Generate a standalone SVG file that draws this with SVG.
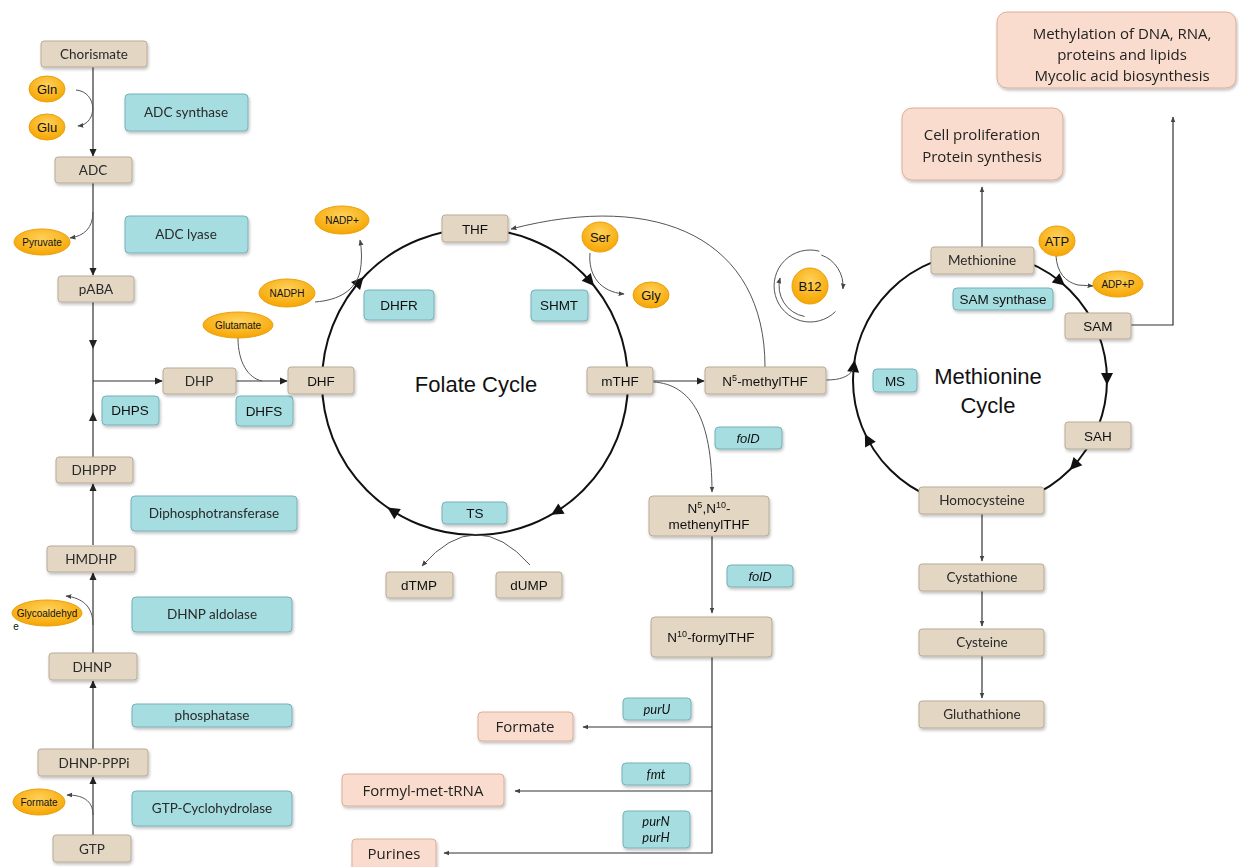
<svg xmlns="http://www.w3.org/2000/svg" width="1239" height="867" viewBox="0 0 1239 867">
<defs>
<style>
.tan{fill:#e3d6c3;stroke:#b9ab97;stroke-width:1}
.teal{fill:#a5dde1;stroke:#76b2b8;stroke-width:1}
.peach{fill:#f9dccd;stroke:#dcae98;stroke-width:1}
.orb{fill:url(#og);stroke:#eaa010;stroke-width:1}
.t{font-family:Lato,"Noto Sans",sans-serif;font-size:13.5px;fill:#2a2a2a;text-anchor:middle}
.h{font-family:"Liberation Sans",Arial,sans-serif;font-size:13.5px;fill:#111;text-anchor:middle}
.hs{font-family:"Liberation Sans",Arial,sans-serif;font-size:10px;fill:#111;text-anchor:middle}
.hi{font-family:"Liberation Sans",Arial,sans-serif;font-size:13px;fill:#111;text-anchor:middle;font-style:italic}
.ti{font-family:Lato,"Noto Sans",sans-serif;font-size:13px;fill:#111;text-anchor:middle;font-style:italic}
.p{font-family:"Open Sans","Noto Sans",sans-serif;font-size:15px;fill:#222;text-anchor:middle}
.big{font-family:"Liberation Sans",Arial,sans-serif;font-size:22px;fill:#111;text-anchor:middle}
.ln{fill:none;stroke:#333;stroke-width:1.2}
.cv{fill:none;stroke:#555;stroke-width:1}
.cyc{fill:none;stroke:#111;stroke-width:2}
</style>
<radialGradient id="og" cx="50%" cy="35%" r="65%">
<stop offset="0" stop-color="#ffd15a"/>
<stop offset="1" stop-color="#f6a500"/>
</radialGradient>
<filter id="sh" x="-10%" y="-10%" width="130%" height="140%">
<feDropShadow dx="1" dy="2" stdDeviation="1.5" flood-color="#000" flood-opacity="0.25"/>
</filter>
<marker id="ah" viewBox="0 0 10 10" refX="9" refY="5" markerWidth="8" markerHeight="8" markerUnits="userSpaceOnUse" orient="auto"><path d="M0,0.5 L10,5 L0,9.5 z" fill="#222"/></marker>
<marker id="as" viewBox="0 0 10 10" refX="9" refY="5" markerWidth="6" markerHeight="6" markerUnits="userSpaceOnUse" orient="auto"><path d="M0,1 L10,5 L0,9 z" fill="#444"/></marker>
<path id="tri" d="M-7,-6 L5,0 L-7,6 z" fill="#111"/>
<path id="tris" d="M-5,-4 L4,0 L-5,4 z" fill="#222"/>
</defs>

<rect width="1239" height="867" fill="#fff"/>

<!-- cycles -->
<g id="cycles">
<circle class="cyc" cx="475" cy="382" r="153"/>
<circle class="cyc" cx="980" cy="380" r="127"/>
<use href="#tri" transform="translate(360.2,280.8) rotate(311.4)"/>
<use href="#tri" transform="translate(590.8,282.1) rotate(49.2)"/>
<use href="#tri" transform="translate(555.5,512.2) rotate(148.3)"/>
<use href="#tri" transform="translate(391.7,510.3) rotate(213)"/>
<use href="#tri" transform="translate(1061,282.3) rotate(39.7)"/>
<use href="#tri" transform="translate(1107,380) rotate(90)"/>
<use href="#tri" transform="translate(1073.2,466.3) rotate(132.8)"/>
<use href="#tri" transform="translate(867.2,438.4) rotate(242.6)"/>
<use href="#tri" transform="translate(854,365) rotate(276.8)"/>
</g>

<!-- connectors -->
<g id="connectors">
<path class="ln" d="M93 67 V156" marker-end="url(#ah)"/>
<path class="cv" d="M76 90 C98 92 98 124 78 126" marker-end="url(#as)"/>
<path class="ln" d="M93 183 V275" marker-end="url(#ah)"/>
<path class="cv" d="M93 212 C93 228 84 236 70 238" marker-end="url(#as)"/>
<path class="ln" d="M93 302 V457"/>
<use href="#tris" transform="translate(93,345) rotate(90)"/>
<use href="#tris" transform="translate(93,416) rotate(-90)"/>
<path class="ln" d="M93 381 H162" marker-end="url(#ah)"/>
<path class="ln" d="M93 545 V484" marker-end="url(#ah)"/>
<path class="ln" d="M93 653 V573" marker-end="url(#ah)"/>
<path class="cv" d="M93 625 C93 606 82 598 66 596" marker-end="url(#as)"/>
<path class="ln" d="M93 749 V681" marker-end="url(#ah)"/>
<path class="ln" d="M93 835 V777" marker-end="url(#ah)"/>
<path class="cv" d="M93 815 C93 800 82 795 67 795" marker-end="url(#as)"/>
<path class="ln" d="M236 381 H287" marker-end="url(#ah)"/>
<path class="cv" d="M238 338 C238 362 248 378 262 381"/>
<path class="cv" d="M315 302 C340 300 355 290 360 272 C362 262 362 250 360 240" marker-end="url(#as)"/>
<path class="cv" d="M590 253 C588 275 600 292 624 294" marker-end="url(#as)"/>
<path class="cv" d="M765 367 C765 240 660 190 511 229" marker-end="url(#as)"/>
<path class="ln" d="M653 381 H704" marker-end="url(#ah)"/>
<path class="cv" d="M826 380 C840 380 848 377 853 370"/>
<path class="cv" d="M653 382 C692 384 712 420 712 492" marker-end="url(#as)"/>
<path class="ln" d="M712 536 V613" marker-end="url(#as)"/>
<path class="ln" d="M712 657 V853 H444" marker-end="url(#as)"/>
<path class="ln" d="M712 727 H583" marker-end="url(#as)"/>
<path class="ln" d="M712 791 H515" marker-end="url(#as)"/>
<path class="cv" d="M530 565 Q476 504 422 566" marker-end="url(#as)"/>
<path class="cv" d="M1056 256 C1057 272 1065 282 1078 285 L1093 286" marker-end="url(#as)"/>
<path class="ln" d="M982 247 V187" marker-end="url(#as)"/>
<path class="ln" d="M1131 325 H1173 V117" marker-end="url(#as)"/>
<path class="ln" d="M982 514 V561" marker-end="url(#as)"/>
<path class="ln" d="M982 591 V626" marker-end="url(#as)"/>
<path class="ln" d="M982 656 V698" marker-end="url(#as)"/>
<path class="cv" d="M819.3 251.2 A36 36 0 1 0 835.5 311.5"/>
<path class="cv" d="M804.6 316.5 A31 31 0 0 1 780.1 278" marker-end="url(#as)"/>
<path class="cv" d="M821.3 255 A33 33 0 0 1 842.9 288.9" marker-end="url(#as)"/>
</g>

<!-- left pathway -->
<g id="chorismate" filter="url(#sh)"><rect class="tan" x="41" y="41" width="106" height="26" rx="3"/><text class="t" x="94" y="59">Chorismate</text></g>
<g id="gln"><ellipse class="orb" cx="47" cy="89" rx="18" ry="13"/><text class="h" x="47" y="94" style="font-size:13px">Gln</text></g>
<g id="glu"><ellipse class="orb" cx="47" cy="127" rx="18" ry="13"/><text class="h" x="47" y="132" style="font-size:13px">Glu</text></g>
<g id="adc-synthase" filter="url(#sh)"><rect class="teal" x="125" y="94" width="123" height="37" rx="4"/><text class="t" x="186" y="117">ADC synthase</text></g>
<g id="adc" filter="url(#sh)"><rect class="tan" x="55" y="157" width="77" height="26" rx="3"/><text class="t" x="93" y="175">ADC</text></g>
<g id="pyruvate"><ellipse class="orb" cx="42" cy="242" rx="28" ry="13"/><text class="hs" x="42" y="246">Pyruvate</text></g>
<g id="adc-lyase" filter="url(#sh)"><rect class="teal" x="125" y="216" width="123" height="37" rx="4"/><text class="t" x="186" y="239">ADC lyase</text></g>
<g id="paba" filter="url(#sh)"><rect class="tan" x="58" y="276" width="76" height="26" rx="3"/><text class="t" x="96" y="294">pABA</text></g>
<g id="nadph"><ellipse class="orb" cx="287" cy="293" rx="28" ry="14"/><text class="hs" x="287" y="297">NADPH</text></g>
<g id="glutamate"><ellipse class="orb" cx="238" cy="325" rx="35" ry="13"/><text class="hs" x="238" y="329">Glutamate</text></g>
<g id="nadp"><ellipse class="orb" cx="342" cy="220" rx="27" ry="14"/><text class="hs" x="342" y="224">NADP+</text></g>
<g id="dhp" filter="url(#sh)"><rect class="tan" x="163" y="368" width="73" height="26" rx="3"/><text class="t" x="199" y="386">DHP</text></g>
<g id="dhps" filter="url(#sh)"><rect class="teal" x="102" y="396" width="57" height="29" rx="4"/><text class="h" x="130" y="415">DHPS</text></g>
<g id="dhfs" filter="url(#sh)"><rect class="teal" x="236" y="396" width="57" height="30" rx="4"/><text class="h" x="264" y="416">DHFS</text></g>
<g id="dhf" filter="url(#sh)"><rect class="tan" x="288" y="367" width="66" height="27" rx="3"/><text class="h" x="321" y="386">DHF</text></g>
<g id="dhppp" filter="url(#sh)"><rect class="tan" x="56" y="457" width="77" height="26" rx="3"/><text class="t" x="94" y="475">DHPPP</text></g>
<g id="diphosphotransferase" filter="url(#sh)"><rect class="teal" x="131" y="496" width="166" height="35" rx="4"/><text class="t" x="214" y="518">Diphosphotransferase</text></g>
<g id="hmdhp" filter="url(#sh)"><rect class="tan" x="47" y="546" width="88" height="26" rx="3"/><text class="t" x="91" y="564">HMDHP</text></g>
<g id="glycoaldehyde"><ellipse class="orb" cx="47" cy="613" rx="35" ry="13"/><text class="hs" x="47" y="617">Glycoaldehyd</text><text class="hs" x="16" y="630">e</text></g>
<g id="dhnp-aldolase" filter="url(#sh)"><rect class="teal" x="132" y="597" width="160" height="35" rx="4"/><text class="t" x="212" y="619">DHNP aldolase</text></g>
<g id="dhnp" filter="url(#sh)"><rect class="tan" x="49" y="653" width="88" height="27" rx="3"/><text class="t" x="92" y="672">DHNP</text></g>
<g id="phosphatase" filter="url(#sh)"><rect class="teal" x="132" y="704" width="160" height="23" rx="4"/><text class="t" x="212" y="720">phosphatase</text></g>
<g id="dhnp-pppi" filter="url(#sh)"><rect class="tan" x="38" y="749" width="110" height="27" rx="3"/><text class="t" x="94" y="768">DHNP-PPPi</text></g>
<g id="formate-l"><ellipse class="orb" cx="39" cy="802" rx="26" ry="13"/><text class="hs" x="39" y="806">Formate</text></g>
<g id="gtp-cyclohydrolase" filter="url(#sh)"><rect class="teal" x="132" y="791" width="160" height="35" rx="4"/><text class="t" x="212" y="813">GTP-Cyclohydrolase</text></g>
<g id="gtp" filter="url(#sh)"><rect class="tan" x="53" y="835" width="78" height="27" rx="3"/><text class="t" x="92" y="854">GTP</text></g>

<!-- folate cycle -->
<g id="thf" filter="url(#sh)"><rect class="tan" x="442" y="215" width="66" height="27" rx="3"/><text class="h" x="475" y="234">THF</text></g>
<g id="dhfr" filter="url(#sh)"><rect class="teal" x="364" y="290" width="70" height="30" rx="4"/><text class="h" x="399" y="310">DHFR</text></g>
<g id="shmt" filter="url(#sh)"><rect class="teal" x="531" y="290" width="57" height="31" rx="4"/><text class="h" x="559" y="310">SHMT</text></g>
<g id="ser"><ellipse class="orb" cx="600" cy="237" rx="18" ry="15"/><text class="h" x="600" y="242" style="font-size:13px">Ser</text></g>
<g id="gly"><ellipse class="orb" cx="651" cy="295" rx="18" ry="13"/><text class="h" x="651" y="300" style="font-size:13px">Gly</text></g>
<g id="folate-label"><text class="big" x="476" y="392">Folate Cycle</text></g>
<g id="mthf" filter="url(#sh)"><rect class="tan" x="587" y="367" width="66" height="27" rx="3"/><text class="h" x="620" y="386">mTHF</text></g>
<g id="ts" filter="url(#sh)"><rect class="teal" x="442" y="502" width="65" height="22" rx="4"/><text class="h" x="475" y="518">TS</text></g>
<g id="dtmp" filter="url(#sh)"><rect class="tan" x="386" y="572" width="67" height="26" rx="3"/><text class="h" x="419" y="590">dTMP</text></g>
<g id="dump" filter="url(#sh)"><rect class="tan" x="496" y="572" width="66" height="26" rx="3"/><text class="h" x="529" y="590">dUMP</text></g>
<g id="n5-methylthf" filter="url(#sh)"><rect class="tan" x="705" y="367" width="121" height="27" rx="3"/><text class="h" x="765" y="386">N<tspan dy="-5" font-size="9">5</tspan><tspan dy="5">-methylTHF</tspan></text></g>
<g id="fold1" filter="url(#sh)"><rect class="teal" x="715" y="427" width="67" height="22" rx="4"/><text class="hi" x="748" y="443">folD</text></g>
<g id="n5n10-methenylthf" filter="url(#sh)"><rect class="tan" x="649" y="496" width="120" height="40" rx="4"/><text class="h" x="709" y="513">N<tspan dy="-5" font-size="9">5</tspan><tspan dy="5">,N</tspan><tspan dy="-5" font-size="9">10</tspan><tspan dy="5">-</tspan></text><text class="h" x="709" y="529">methenylTHF</text></g>
<g id="fold2" filter="url(#sh)"><rect class="teal" x="727" y="565" width="66" height="22" rx="4"/><text class="hi" x="760" y="581">folD</text></g>
<g id="n10-formylthf" filter="url(#sh)"><rect class="tan" x="651" y="617" width="121" height="40" rx="4"/><text class="h" x="711" y="642">N<tspan dy="-5" font-size="9">10</tspan><tspan dy="5">-formylTHF</tspan></text></g>
<g id="puru" filter="url(#sh)"><rect class="teal" x="623" y="698" width="68" height="22" rx="4"/><text class="ti" x="657" y="714">purU</text></g>
<g id="formate" filter="url(#sh)"><rect class="peach" x="478" y="712" width="95" height="29" rx="4"/><text class="p" x="525" y="732">Formate</text></g>
<g id="fmt" filter="url(#sh)"><rect class="teal" x="622" y="763" width="68" height="22" rx="4"/><text class="ti" x="656" y="779">fmt</text></g>
<g id="formyl-met-trna" filter="url(#sh)"><rect class="peach" x="342" y="774" width="162" height="32" rx="4"/><text class="p" x="423" y="796">Formyl-met-tRNA</text></g>
<g id="purn-purh" filter="url(#sh)"><rect class="teal" x="623" y="811" width="67" height="37" rx="4"/><text class="ti" x="656" y="826">purN</text><text class="ti" x="656" y="842">purH</text></g>
<g id="purines" filter="url(#sh)"><rect class="peach" x="352" y="839" width="84" height="32" rx="4"/><text class="p" x="394" y="859">Purines</text></g>

<!-- methionine cycle -->
<g id="b12"><circle class="orb" cx="810" cy="286" r="18"/><text class="h" x="810" y="291" style="font-size:13px">B12</text></g>
<g id="methionine" filter="url(#sh)"><rect class="tan" x="931" y="247" width="103" height="27" rx="3"/><text class="t" x="982" y="265">Methionine</text></g>
<g id="sam-synthase" filter="url(#sh)"><rect class="teal" x="953" y="288" width="100" height="22" rx="4"/><text class="h" x="1003" y="304">SAM synthase</text></g>
<g id="atp"><ellipse class="orb" cx="1057" cy="241" rx="18" ry="15"/><text class="h" x="1057" y="246" style="font-size:13px">ATP</text></g>
<g id="adp"><ellipse class="orb" cx="1118" cy="284" rx="25" ry="13"/><text class="hs" x="1118" y="288">ADP+P</text></g>
<g id="sam" filter="url(#sh)"><rect class="tan" x="1065" y="313" width="66" height="26" rx="3"/><text class="h" x="1098" y="331">SAM</text></g>
<g id="ms" filter="url(#sh)"><rect class="teal" x="873" y="369" width="44" height="23" rx="4"/><text class="h" x="895" y="386">MS</text></g>
<g id="methionine-label"><text class="big" x="988" y="384">Methionine</text><text class="big" x="988" y="413">Cycle</text></g>
<g id="sah" filter="url(#sh)"><rect class="tan" x="1065" y="422" width="66" height="27" rx="3"/><text class="h" x="1098" y="441">SAH</text></g>
<g id="homocysteine" filter="url(#sh)"><rect class="tan" x="919" y="487" width="125" height="27" rx="3"/><text class="t" x="982" y="505">Homocysteine</text></g>
<g id="cystathione" filter="url(#sh)"><rect class="tan" x="919" y="564" width="125" height="27" rx="3"/><text class="t" x="982" y="582">Cystathione</text></g>
<g id="cysteine" filter="url(#sh)"><rect class="tan" x="919" y="629" width="125" height="27" rx="3"/><text class="t" x="982" y="647">Cysteine</text></g>
<g id="gluthathione" filter="url(#sh)"><rect class="tan" x="919" y="701" width="125" height="27" rx="3"/><text class="t" x="982" y="719">Gluthathione</text></g>
<g id="cell-proliferation" filter="url(#sh)"><rect class="peach" x="902" y="108" width="161" height="72" rx="10"/><text class="p" x="982" y="140">Cell proliferation</text><text class="p" x="982" y="162">Protein synthesis</text></g>
<g id="methylation" filter="url(#sh)"><rect class="peach" x="997" y="12" width="239" height="76" rx="10"/><text class="p" x="1122" y="39">Methylation of DNA, RNA,</text><text class="p" x="1122" y="60">proteins and lipids</text><text class="p" x="1122" y="81">Mycolic acid biosynthesis</text></g>
</svg>
